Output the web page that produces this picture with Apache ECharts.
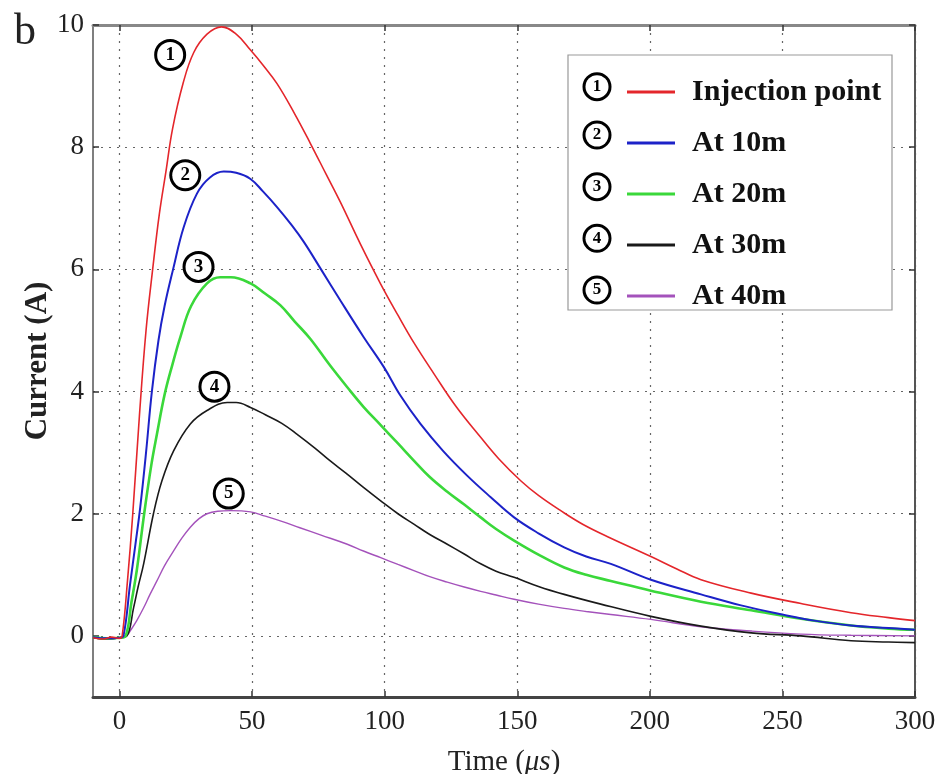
<!DOCTYPE html>
<html>
<head>
<meta charset="utf-8">
<script src="https://cdn.jsdelivr.net/npm/echarts@6/dist/echarts.min.js"></script>
<style>
  html, body { margin: 0; padding: 0; background: #fff; }
  #chart { width: 945px; height: 774px; }
</style>
</head>
<body>
<div id="chart"></div>
<script>
// Axis ticks
const xTicks = [0, 50, 100, 150, 200, 250, 300];
const yTicks = [0, 2, 4, 6, 8, 10];

// Series names and colours
const seriesNames = ['Injection point', 'At 10m', 'At 20m', 'At 30m', 'At 40m'];
const seriesColors = ['#e4262b', '#1c22c8', '#3ad83a', '#1a1a1a', '#a452bb'];
const seriesWidths = [1.6, 2, 2.6, 1.6, 1.4];

// Measured current (A) versus time (µs), [time, current]
const injectionPoint = [
  [-10, -0.03], [-6, -0.05], [-3, -0.02], [0, -0.04], [1, 0], [3, 0.9], [5, 2.0], [7.5, 3.6],
  [10, 5.0], [12.5, 6.0], [15, 6.9], [17.5, 7.6], [20, 8.3], [24, 9.05], [28, 9.55], [33, 9.85],
  [38.5, 9.97], [44, 9.85], [49.4, 9.59], [54, 9.35], [59.4, 9.04], [66, 8.55], [72, 8.06],
  [78, 7.55], [83.3, 7.1], [91, 6.4], [98.5, 5.76], [105, 5.25], [111, 4.8], [118.6, 4.29],
  [127, 3.75], [136.2, 3.25], [143, 2.9], [151.3, 2.54], [158, 2.3], [166.4, 2.05], [175, 1.82],
  [185.3, 1.6], [200.4, 1.3], [210, 1.1], [219.3, 0.92], [238.2, 0.7], [257, 0.53],
  [275.9, 0.38], [290, 0.3], [300, 0.25]
];
const at10m = [
  [-10, -0.02], [-5, -0.04], [0, -0.03], [1.5, 0], [4, 0.85], [6, 1.5], [7.8, 2.1], [10, 3.0],
  [12.2, 4.0], [14.7, 4.84], [17, 5.4], [20.2, 6.0], [24.2, 6.69], [29.2, 7.24], [34, 7.5],
  [39.3, 7.6], [44, 7.58], [49.4, 7.48], [54, 7.28], [59.4, 7.02], [65, 6.72], [69.5, 6.45],
  [76, 6.0], [83.3, 5.49], [92.1, 4.89], [99.7, 4.4], [106, 3.93], [113.5, 3.47], [122, 3.03],
  [131.2, 2.62], [140, 2.27], [148.8, 1.94], [158, 1.68], [167.7, 1.45], [176, 1.3],
  [185.3, 1.18], [200.4, 0.92], [219.3, 0.68], [234.4, 0.5], [250, 0.35], [262, 0.25],
  [275.9, 0.17], [290, 0.13], [300, 0.1]
];
const at20m = [
  [-10, -0.02], [-5, -0.04], [0, -0.03], [2.3, 0], [4.5, 0.55], [6.6, 1.1], [9.3, 2.0],
  [12, 2.8], [14.1, 3.3], [17, 3.95], [20, 4.45], [23, 4.9], [27, 5.4], [33, 5.77], [38, 5.87],
  [42, 5.87], [49.4, 5.77], [55, 5.6], [60.7, 5.41], [66, 5.15], [72, 4.86], [79, 4.45],
  [85.9, 4.07], [92, 3.75], [98.5, 3.45], [105, 3.15], [111, 2.87], [117, 2.6], [123.6, 2.36],
  [130, 2.15], [136.2, 1.94], [142, 1.75], [148.8, 1.56], [158, 1.33], [167.7, 1.12],
  [176, 1.0], [185.3, 0.9], [200.4, 0.74], [219.3, 0.56], [238.2, 0.42], [257, 0.28],
  [275.9, 0.17], [290, 0.12], [300, 0.1]
];
const at30m = [
  [-10, -0.03], [-5, -0.05], [0, -0.03], [2.8, 0], [5.3, 0.46], [7, 0.8], [9.1, 1.18],
  [12.8, 2.0], [16, 2.54], [20.4, 3.03], [26.7, 3.47], [33, 3.69], [40.6, 3.82], [44, 3.82],
  [49.4, 3.74], [55, 3.62], [61.2, 3.48], [67, 3.3], [73.8, 3.07], [79, 2.88], [85.5, 2.66],
  [92, 2.43], [98.5, 2.21], [105, 2.0], [111, 1.83], [117, 1.66], [123.6, 1.5], [130, 1.34],
  [136.2, 1.18], [142, 1.06], [148.8, 0.96], [158, 0.81], [167.7, 0.68], [181.5, 0.52],
  [200.4, 0.32], [219.3, 0.16], [238.2, 0.05], [257, 0.0], [275.9, -0.08], [290, -0.1],
  [300, -0.11]
];
const at40m = [
  [-10, -0.03], [-5, -0.05], [0, -0.03], [3, 0.02], [4, 0.08], [6.5, 0.25], [9.1, 0.46],
  [11.5, 0.68], [14.1, 0.9], [17, 1.15], [20.4, 1.39], [23.5, 1.6], [26.7, 1.78], [30, 1.92],
  [33, 2.0], [37, 2.04], [41.8, 2.05], [49.4, 2.03], [55, 1.96], [61.5, 1.87], [68, 1.77],
  [76, 1.65], [85.9, 1.5], [92, 1.39], [98.5, 1.28], [105, 1.17], [111, 1.07], [117, 0.97],
  [123.6, 0.88], [130, 0.8], [136.2, 0.73], [142, 0.67], [148.8, 0.6], [158, 0.52],
  [167.7, 0.45], [176, 0.4], [185.3, 0.35], [200.4, 0.27], [219.3, 0.15], [238.2, 0.08],
  [257, 0.03], [275.9, 0.01], [300, 0.0]
];
const seriesData = [injectionPoint, at10m, at20m, at30m, at40m];

// Circled curve numbers placed next to each peak, [time, current]
const markerDigits = ['1', '2', '3', '4', '5'];
const markerPositions = [[19.1, 9.51], [24.8, 7.54], [29.8, 6.04], [35.8, 4.08], [41.2, 2.33]];

const serif = 'Liberation Serif, Times New Roman, serif';

function circleRich(size, fontSize) {
  return {
    c: {
      width: size, height: size, lineHeight: size,
      borderRadius: size / 2, borderWidth: 3, borderColor: '#000',
      backgroundColor: '#fff', align: 'center', verticalAlign: 'middle',
      fontFamily: serif, fontSize: fontSize, fontWeight: 'bold', color: '#000'
    }
  };
}

const chart = echarts.init(document.getElementById('chart'), null, { renderer: 'canvas' });

const lineSeries = seriesNames.map((name, i) => ({
  name: name,
  type: 'line',
  data: seriesData[i],
  showSymbol: false,
  smooth: 0.4,
  color: seriesColors[i],
  lineStyle: { color: seriesColors[i], width: seriesWidths[i] },
  z: 5 - i,
  animation: false
}));

const markerSeries = {
  name: 'markers',
  type: 'scatter',
  data: markerPositions,
  symbolSize: 0,
  silent: true,
  z: 10,
  itemStyle: { opacity: 1 },
  label: {
    show: true,
    position: 'inside',
    color: '#000',
    textBorderWidth: 0,
    formatter: p => '{c|' + markerDigits[p.dataIndex] + '}',
    rich: circleRich(26, 19)
  },
  animation: false
};

// Legend numbering, drawn left of each legend line
const legendRowY = [86.7, 135, 186.7, 238.3, 290];
const legendNumbers = markerDigits.map((d, i) => ({
  type: 'text',
  x: 597, y: legendRowY[i], z: 20,
  style: {
    text: '{c|' + d + '}',
    align: 'center', verticalAlign: 'middle',
    rich: circleRich(23, 17)
  }
}));

const option = {
  backgroundColor: '#fff',
  animation: false,
  grid: { left: 93, right: 30, top: 25, bottom: 77, containLabel: false, outerBoundsMode: 'none' },
  xAxis: [
    {
      type: 'value', position: 'bottom', min: -10, max: 300,
      name: 'Time ({i|μs})', nameLocation: 'middle', nameGap: 51, nameMoveOverlap: false,
      nameTextStyle: {
        fontFamily: serif, fontSize: 29, color: '#222',
        rich: { i: { fontFamily: serif, fontSize: 29, fontStyle: 'italic', color: '#222' } }
      },
      axisLine: { show: true, onZero: false, lineStyle: { color: '#444', width: 3 } },
      axisTick: { show: true, inside: true, length: 6, customValues: xTicks, lineStyle: { color: '#333', width: 1.5 } },
      axisLabel: { customValues: xTicks, margin: 11, fontFamily: serif, fontSize: 27, color: '#222' },
      splitLine: { show: true, lineStyle: { color: '#666', width: 1.2, type: [2, 6] } }
    },
    {
      type: 'value', position: 'top', min: -10, max: 300,
      axisLine: { show: true, onZero: false, lineStyle: { color: '#888', width: 3 } },
      axisTick: { show: true, inside: true, length: 6, customValues: xTicks, lineStyle: { color: '#333', width: 1.5 } },
      axisLabel: { show: false },
      splitLine: { show: false }
    }
  ],
  yAxis: [
    {
      type: 'value', position: 'left', min: -1, max: 10,
      name: 'Current (A)', nameLocation: 'middle', nameGap: 40, nameRotate: 90, nameMoveOverlap: false,
      nameTextStyle: { fontFamily: serif, fontSize: 31, fontWeight: 'bold', color: '#222' },
      axisLine: { show: true, onZero: false, lineStyle: { color: '#555', width: 1.5 } },
      axisTick: { show: true, inside: true, length: 6, customValues: yTicks, lineStyle: { color: '#333', width: 1.5 } },
      axisLabel: { customValues: yTicks, margin: 9, fontFamily: serif, fontSize: 27, color: '#222' },
      splitLine: { show: true, lineStyle: { color: '#666', width: 1.2, type: [2, 6] } }
    },
    {
      type: 'value', position: 'right', min: -1, max: 10,
      axisLine: { show: true, onZero: false, lineStyle: { color: '#555', width: 2 } },
      axisTick: { show: true, inside: true, length: 6, customValues: yTicks, lineStyle: { color: '#333', width: 1.5 } },
      axisLabel: { show: false },
      splitLine: { show: false }
    }
  ],
  legend: {
    orient: 'vertical', left: 622, top: 71,
    itemWidth: 48, itemHeight: 3, itemGap: 19, icon: 'rect',
    selectedMode: false, z: 15,
    data: seriesNames,
    textStyle: {
      fontFamily: serif, fontWeight: 'bold', fontSize: 30, color: '#111',
      lineHeight: 32, padding: [0, 0, 0, 12]
    }
  },
  graphic: [
    {
      type: 'rect', z: 12,
      shape: { x: 568, y: 55, width: 324, height: 255 },
      style: { fill: '#fff', stroke: '#999', lineWidth: 1.2 }
    },
    {
      type: 'text', x: 14, y: 10, z: 20,
      style: { text: 'b', fontFamily: serif, fontSize: 44, fill: '#222' }
    }
  ].concat(legendNumbers),
  series: lineSeries.concat([markerSeries])
};

chart.setOption(option);
</script>
</body>
</html>
